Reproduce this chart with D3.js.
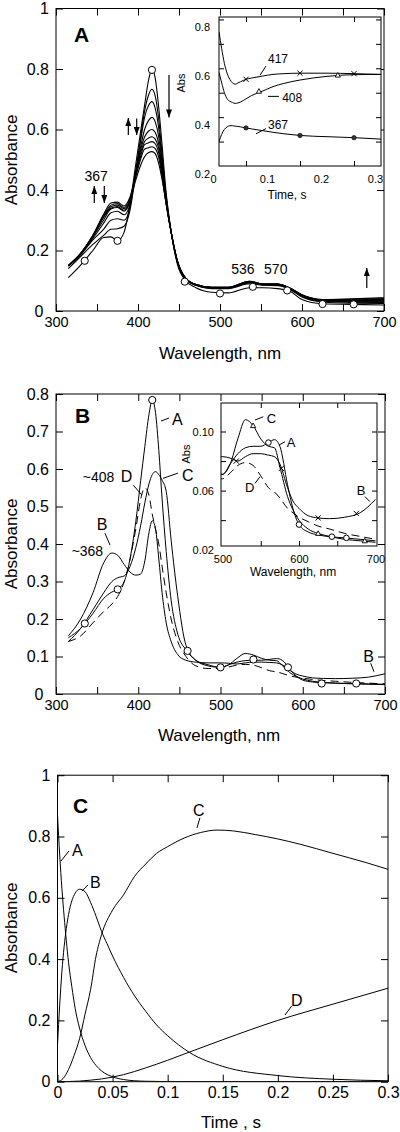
<!DOCTYPE html>
<html><head><meta charset="utf-8">
<script src="https://cdn.jsdelivr.net/npm/d3@7"></script>
<style>
body{margin:0;background:#fff;}
svg{display:block;}
</style></head><body>
<svg id="chart" width="400" height="1132"></svg>
<script>
// ---------------- DATA ----------------
// Panel A: spectra (wavelength grid shared by all traces)
const wlA = [315,330,345,358,367,375,383,390,397,403,408,413,417,421,425,429,434,440,448,458,470,490,510,536,553,570,585,600,625,660,700];
const specA0 = [.11,.152,.20,.243,.245,.232,.26,.35,.48,.59,.68,.765,.80,.77,.68,.56,.40,.27,.155,.10,.078,.062,.06,.077,.077,.074,.066,.038,.024,.022,.02];
const specA1 = [.14,.18,.22,.25,.27,.272,.28,.33,.45,.57,.66,.715,.733,.71,.64,.53,.39,.268,.16,.105,.085,.074,.074,.09,.085,.084,.072,.046,.03,.026,.025];
const specA2 = [.148,.185,.235,.27,.30,.305,.30,.34,.46,.56,.64,.68,.692,.67,.61,.51,.38,.268,.162,.106,.086,.075,.075,.093,.086,.086,.073,.048,.032,.029,.028];
const specA3 = [.15,.188,.24,.29,.325,.33,.318,.35,.45,.54,.60,.63,.64,.625,.58,.495,.375,.268,.164,.107,.087,.076,.076,.095,.087,.087,.074,.05,.034,.031,.030];
const specA4 = [.15,.19,.245,.30,.337,.342,.33,.36,.45,.53,.575,.595,.60,.59,.555,.48,.37,.268,.165,.108,.087,.077,.077,.096,.088,.088,.075,.051,.035,.033,.032];
const specA5 = [.15,.19,.248,.31,.345,.35,.338,.365,.45,.52,.56,.572,.576,.568,.54,.47,.365,.268,.166,.108,.088,.077,.077,.097,.088,.088,.075,.052,.036,.035,.035];
const specA6 = [.15,.19,.25,.32,.357,.36,.347,.375,.445,.51,.55,.556,.56,.553,.525,.46,.36,.266,.166,.109,.088,.078,.078,.097,.089,.089,.076,.053,.037,.037,.038];
const specA7 = [.15,.19,.25,.315,.35,.355,.342,.37,.44,.50,.535,.54,.543,.537,.51,.45,.36,.266,.166,.109,.088,.078,.078,.098,.089,.089,.076,.053,.038,.039,.041];
const specA8 = [.15,.19,.248,.31,.34,.345,.333,.36,.43,.48,.51,.524,.527,.52,.49,.44,.36,.265,.165,.109,.088,.078,.078,.098,.089,.089,.076,.054,.038,.04,.044];
const markA0 = [[335,.166],[375,.232],[417,.797],[457,.097],[500,.058],[540,.08],[582,.068],[625,.023],[663,.022]];
const ticksA_x = [300,350,400,450,500,550,600,650,700];
const labelsA_x = [300,400,500,600,700];
const ticksA_y = [0,0.2,0.4,0.6,0.8,1];

// Panel A inset: kinetics at three wavelengths
const tIns = [0,0.005,0.01,0.015,0.02,0.025,0.03,0.035,0.04,0.05,0.06,0.08,0.1,0.12,0.15,0.2,0.25,0.3];
const k417 = [0.75,0.68,0.62,0.58,0.555,0.54,0.535,0.54,0.545,0.555,0.56,0.568,0.575,0.578,0.58,0.58,0.578,0.575];
const k408 = [0.583,0.54,0.5,0.475,0.465,0.46,0.456,0.458,0.462,0.475,0.488,0.506,0.525,0.538,0.552,0.567,0.574,0.575];
const k367 = [0.30,0.33,0.35,0.36,0.365,0.365,0.363,0.362,0.36,0.356,0.352,0.345,0.338,0.332,0.325,0.32,0.316,0.31];
const m417 = [[0.05,0.555],[0.15,0.58],[0.25,0.578]];
const m408 = [[0.074,0.506],[0.22,0.572]];
const m367 = [[0.05,0.356],[0.15,0.325],[0.25,0.316]];
const ticksAi_x = [0.05,0.15,0.25];
const labelsAi_x = [0,0.1,0.2,0.3];
const ticksAi_y = [0.3,0.4,0.5,0.6,0.7,0.8];
const labelsAi_y = [0.2,0.4,0.6,0.8];

// Panel B: resolved spectra A-D
const wlB = [315,330,345,358,368,375,383,390,397,403,408,413,417,421,425,429,434,440,448,458,470,485,
             500,510,520,530,540,550,560,568,575,585,592,600,612,625,640,660,680,700];
const specB_A = [.15,.175,.215,.255,.272,.279,.30,.36,.46,.57,.66,.745,.784,.75,.65,.52,.38,.25,.16,.118,.09,.078,
                 .071,.078,.085,.089,.09,.09,.0925,.0945,.09,.064,.048,.037,.032,.03,.0288,.028,.027,.026];
const specB_B = [.155,.2,.27,.35,.376,.37,.345,.325,.317,.32,.355,.43,.462,.44,.36,.27,.19,.14,.105,.09,.085,.083,
                 .083,.082,.08,.083,.085,.085,.084,.083,.078,.062,.053,.048,.043,.0415,.041,.042,.045,.054];
const specB_C = [.14,.175,.225,.27,.30,.31,.315,.34,.39,.45,.51,.56,.585,.593,.585,.57,.54,.41,.26,.13,.09,.075,
                 .071,.078,.095,.108,.104,.095,.09,.089,.076,.056,.047,.04,.034,.031,.029,.027,.026,.025];
const specB_D = [.14,.155,.19,.22,.24,.26,.3,.36,.44,.52,.55,.53,.48,.44,.40,.34,.27,.2,.14,.1,.075,.068,
                 .068,.072,.077,.079,.077,.07,.062,.059,.055,.048,.045,.042,.039,.036,.034,.031,.029,.027];
const markB_A = [[335,.188],[375,.279],[417,.784],[460,.115],[500,.071],[540,.092],[582,.071],[623,.028],[665,.028]];
const markBi_A = [[560,.0925],[600,.037],[643,.0288],[662,.028]];
const markBi_B = [[518,.080],[577,.075],[625,.0415],[675,.0445]];
const markBi_C = [[540,.104],[625,.031],[686,.026]];
const ticksB_x = [300,350,400,450,500,550,600,650,700];
const labelsB_x = [300,400,500,600,700];
const ticksB_y = [0,0.1,0.2,0.3,0.4,0.5,0.6,0.7,0.8];
const ticksBi_x = [550,600,650];
const labelsBi_x = [500,600,700];
const ticksBi_y = [0.04,0.06,0.08,0.1];
const labelsBi_y = [0.02,0.06,0.1];

// Panel C: species time courses
const tC_A = [0,0.002,0.004,0.006,0.008,0.01,0.013,0.016,0.02,0.025,0.03,0.035,0.04,0.05,0.06,0.07,0.08,0.1,0.15,0.2,0.3];
const vC_A = [0.87,0.74,0.63,0.54,0.46,0.39,0.31,0.24,0.175,0.118,0.079,0.053,0.035,0.016,0.007,0.003,0.0015,0.0003,0,0,0];
const tC_B = [0,0.002,0.004,0.006,0.008,0.01,0.013,0.016,0.02,0.025,0.03,0.035,0.04,0.045,0.05,0.06,0.07,0.08,0.09,0.1,0.12,0.15,0.2,0.25,0.3];
const vC_B = [0.12,0.25,0.36,0.44,0.5,0.545,0.59,0.615,0.628,0.62,0.585,0.54,0.49,0.45,0.41,0.34,0.28,0.23,0.185,0.15,0.095,0.05,0.02,0.008,0.003];
const tC_C = [0,0.005,0.01,0.015,0.02,0.025,0.03,0.035,0.04,0.05,0.06,0.07,0.08,0.09,0.1,0.115,0.13,0.145,0.16,0.18,0.2,0.22,0.25,0.28,0.3];
const vC_C = [0,0.01,0.04,0.085,0.14,0.22,0.3,0.41,0.48,0.56,0.61,0.67,0.71,0.745,0.767,0.795,0.813,0.821,0.818,0.806,0.792,0.775,0.745,0.715,0.693];
const tC_D = [0,0.02,0.03,0.04,0.05,0.06,0.08,0.1,0.12,0.15,0.2,0.25,0.3];
const vC_D = [0,0.002,0.005,0.009,0.015,0.023,0.045,0.07,0.097,0.137,0.2,0.253,0.305];
const ticksC_x = [0,0.05,0.1,0.15,0.2,0.25,0.3];
const ticksC_y = [0,0.2,0.4,0.6,0.8,1];

// ---------------- DRAWING ----------------
const svg = d3.select("#chart");
const FONT = '"Liberation Sans", Arial, Helvetica, sans-serif';
svg.attr("font-family", FONT);
const defs = svg.append("defs");
defs.append("marker").attr("id","arr").attr("viewBox","0 0 8 6").attr("refX",8).attr("refY",3)
  .attr("markerWidth",8).attr("markerHeight",6).attr("markerUnits","userSpaceOnUse").attr("orient","auto")
  .append("path").attr("d","M0,0 L8,3 L0,6 z").attr("fill","#000");
let clipN = 0;
const num = d => String(+(+d).toFixed(3));

function panel(p) {
  const x = d3.scaleLinear().domain(p.xDomain).range(p.xRange);
  const y = d3.scaleLinear().domain(p.yDomain).range(p.yRange);
  const x0 = p.xRange[0], x1 = p.xRange[1], yT = p.yRange[1], yB = p.yRange[0];
  const g = svg.append("g");
  g.append("rect").attr("x",x0).attr("y",yT).attr("width",x1-x0).attr("height",yB-yT).attr("fill","#fff");
  const id = "clip" + (clipN++);
  defs.append("clipPath").attr("id",id).append("rect").attr("x",x0).attr("y",yT).attr("width",x1-x0).attr("height",yB-yT);
  const plot = g.append("g").attr("clip-path",`url(#${id})`);
  const ax = g.append("g");
  const t = p.tick;
  ax.append("g").attr("transform",`translate(0,${yB})`).call(d3.axisBottom(x).tickValues(p.xTicks).tickSize(-t).tickFormat(""));
  ax.append("g").attr("transform",`translate(0,${yT})`).call(d3.axisTop(x).tickValues(p.xTicks).tickSize(-t).tickFormat(""));
  ax.append("g").attr("transform",`translate(${x0},0)`).call(d3.axisLeft(y).tickValues(p.yTicks).tickSize(-t).tickFormat(""));
  ax.append("g").attr("transform",`translate(${x1},0)`).call(d3.axisRight(y).tickValues(p.yTicks).tickSize(-t).tickFormat(""));
  const xl = ax.append("g").attr("transform",`translate(0,${yB})`)
    .call(d3.axisBottom(x).tickValues(p.xLabels).tickSize(0).tickPadding(p.xPad).tickFormat(p.xFmt || num));
  const yl = ax.append("g").attr("transform",`translate(${x0},0)`)
    .call(d3.axisLeft(y).tickValues(p.yLabels).tickSize(0).tickPadding(p.yPad).tickFormat(p.yFmt || num));
  ax.selectAll(".domain").remove();
  ax.selectAll("g").attr("font-family",null).attr("font-size",null);
  ax.selectAll("line").attr("stroke","#000").attr("stroke-width",1);
  xl.selectAll("text").attr("font-size",p.xfs || p.fs).attr("fill","#000");
  yl.selectAll("text").attr("font-size",p.fs).attr("fill","#000");
  if (p.xLabelDx) xl.selectAll("text").attr("dx", p.xLabelDx);
  if (p.yLabelDy) yl.selectAll("text").attr("transform", `translate(0,${p.yLabelDy})`);
  if (p.zeroDx) yl.selectAll("text").filter(d => d === 0).attr("dx", p.zeroDx);
  g.append("rect").attr("x",x0).attr("y",yT).attr("width",x1-x0).attr("height",yB-yT)
    .attr("fill","none").attr("stroke","#000").attr("stroke-width",1);
  return {x, y, g, plot};
}

function curve(P, xs, ys, opt = {}) {
  const line = d3.line().x(d => P.x(d[0])).y(d => P.y(d[1])).curve(d3.curveMonotoneX);
  P.plot.append("path").datum(d3.zip(xs, ys)).attr("d", line)
    .attr("fill","none").attr("stroke","#000").attr("stroke-width", opt.w || 1)
    .attr("stroke-dasharray", opt.dash || null);
}
function markers(P, pts, type, s) {
  const G = P.plot.append("g");
  pts.forEach(([a, b]) => {
    const cx = P.x(a), cy = P.y(b);
    if (type === "circle") G.append("circle").attr("cx",cx).attr("cy",cy).attr("r",s).attr("fill","#fff").attr("stroke","#000");
    else if (type === "dot") G.append("circle").attr("cx",cx).attr("cy",cy).attr("r",s).attr("fill","#333").attr("stroke","#000").attr("stroke-width",0.6);
    else if (type === "x") G.append("path").attr("d",`M${cx-s},${cy-s}L${cx+s},${cy+s}M${cx-s},${cy+s}L${cx+s},${cy-s}`).attr("stroke","#000").attr("stroke-width",1);
    else if (type === "tri") G.append("path").attr("d",`M${cx},${cy-s}L${cx+s},${cy+s*0.75}L${cx-s},${cy+s*0.75}Z`).attr("fill","#fff").attr("stroke","#000").attr("stroke-width",0.9);
  });
}
function label(P, txt, xv, yv, fs, anchor = "start", bold = false) {
  P.g.append("text").attr("x", P.x(xv)).attr("y", P.y(yv)).attr("font-size", fs)
    .attr("text-anchor", anchor).attr("font-weight", bold ? "bold" : null).attr("fill","#000").text(txt);
}
function leader(P, a, b, c, d) {
  P.g.append("line").attr("x1",P.x(a)).attr("y1",P.y(b)).attr("x2",P.x(c)).attr("y2",P.y(d))
    .attr("stroke","#000").attr("stroke-width",1);
}
function arrow(P, xv, y1, y2) {
  P.g.append("line").attr("x1",P.x(xv)).attr("y1",P.y(y1)).attr("x2",P.x(xv)).attr("y2",P.y(y2))
    .attr("stroke","#000").attr("stroke-width",1.2).attr("marker-end","url(#arr)");
}
function axisTitle(txt, x, y, fs, rot) {
  svg.append("text").attr("transform", `translate(${x},${y})` + (rot ? " rotate(-90)" : ""))
    .attr("text-anchor","middle").attr("font-size",fs).attr("fill","#000").text(txt);
}

// ---------- Panel A ----------
const PA = panel({xDomain:[300,700], xRange:[56,384], yDomain:[0,1], yRange:[311,8.5], tick:7, fs:16, xfs:14.5,
  xTicks:ticksA_x, xLabels:labelsA_x, yTicks:ticksA_y, yLabels:ticksA_y, xPad:6, yPad:7, zeroDx:-5.5});
[specA8,specA7,specA6,specA5,specA4,specA3,specA2,specA1,specA0].forEach(s => curve(PA, wlA, s, {w:1.1}));
markers(PA, markA0, "circle", 3.6);
label(PA, "A", 322, 0.889, 21, "start", true);
label(PA, "367", 349, 0.43, 14, "middle");
arrow(PA, 346.7, 0.357, 0.413);
arrow(PA, 358.9, 0.413, 0.357);
arrow(PA, 388.2, 0.582, 0.638);
arrow(PA, 398.4, 0.636, 0.582);
arrow(PA, 437.8, 0.78, 0.64);
arrow(PA, 679, 0.076, 0.142);
label(PA, "536", 528, 0.122, 14, "middle");
label(PA, "570", 568, 0.122, 14, "middle");
axisTitle("Absorbance", 16.5, 160, 17, true);
axisTitle("Wavelength, nm", 220, 359, 17, false);

// Panel A inset
const PAi = panel({xDomain:[0,0.3], xRange:[219,381], yDomain:[0.2,0.81], yRange:[166,17], tick:5, fs:11,
  xTicks:ticksAi_x, xLabels:labelsAi_x, yTicks:ticksAi_y, yLabels:labelsAi_y, xPad:9, yPad:9,
  xLabelDx:-6, yLabelDy:8});
curve(PAi, tIns, k417);
curve(PAi, tIns, k408);
curve(PAi, tIns, k367);
markers(PAi, m417, "x", 2.6);
markers(PAi, m408, "tri", 2.6);
markers(PAi, m367, "dot", 2.2);
label(PAi, "417", 0.0907, 0.621, 12);
leader(PAi, 0.087, 0.609, 0.076, 0.572);
label(PAi, "408", 0.117, 0.464, 12);
leader(PAi, 0.0907, 0.485, 0.111, 0.485);
label(PAi, "367", 0.0907, 0.353, 12);
leader(PAi, 0.087, 0.353, 0.0685, 0.332);
axisTitle("Abs", 185, 83, 11, true);
axisTitle("Time, s", 287, 199, 12, false);

// ---------- Panel B ----------
const PB = panel({xDomain:[300,700], xRange:[56,385], yDomain:[0,0.8], yRange:[694,394], tick:7, fs:16, xfs:14.5,
  xTicks:ticksB_x, xLabels:labelsB_x, yTicks:ticksB_y, yLabels:ticksB_y, xPad:6, yPad:7, zeroDx:-5.5});
curve(PB, wlB, specB_A);
curve(PB, wlB, specB_B);
curve(PB, wlB, specB_C);
curve(PB, wlB, specB_D, {dash:"8,5"});
markers(PB, markB_A, "circle", 3.6);
label(PB, "B", 323, 0.723, 21, "start", true);
label(PB, "A", 441, 0.717, 16);
leader(PB, 427.7, 0.728, 437.4, 0.736);
label(PB, "C", 453.2, 0.568, 16);
leader(PB, 430, 0.575, 448.3, 0.589);
label(PB, "D", 378.6, 0.566, 16);
leader(PB, 394, 0.557, 404.2, 0.531);
label(PB, "~408", 332.5, 0.566, 14);
label(PB, "B", 349.5, 0.437, 16);
leader(PB, 359.6, 0.4285, 365.7, 0.397);
label(PB, "~368", 319, 0.368, 14);
label(PB, "B", 673.6, 0.086, 16);
leader(PB, 682.6, 0.082, 686.6, 0.0595);
axisTitle("Absorbance", 16.5, 544, 17, true);
axisTitle("Wavelength, nm", 219, 741, 17, false);

// Panel B inset
const PBi = panel({xDomain:[498,702], xRange:[221,377], yDomain:[0.0225,0.1193], yRange:[546,403], tick:5, fs:11,
  xTicks:ticksBi_x, xLabels:labelsBi_x, yTicks:ticksBi_y, yLabels:labelsBi_y, xPad:9, yPad:7,
  yFmt:d3.format(".2f")});
curve(PBi, wlB, specB_A);
curve(PBi, wlB, specB_B);
curve(PBi, wlB, specB_C);
curve(PBi, wlB, specB_D, {dash:"8,5"});
markers(PBi, markBi_A, "circle", 2.8);
markers(PBi, markBi_B, "x", 2.6);
markers(PBi, markBi_C, "tri", 2.6);
label(PBi, "C", 557.8, 0.1056, 13);
leader(PBi, 542.5, 0.1078, 553.3, 0.110);
label(PBi, "A", 583.9, 0.0897, 13);
leader(PBi, 574.2, 0.0909, 581.7, 0.0931);
label(PBi, "D", 529.4, 0.0593, 13);
leader(PBi, 542.5, 0.0649, 549, 0.0694);
label(PBi, "B", 675.5, 0.057, 13);
leader(PBi, 686.3, 0.0559, 692.8, 0.0525);
axisTitle("Abs", 190, 454, 11, true);
axisTitle("Wavelength, nm", 293, 576, 12, false);

// ---------- Panel C ----------
const PC = panel({xDomain:[0,0.3], xRange:[57.5,388], yDomain:[0,1], yRange:[1081.7,775.2], tick:7, fs:16,
  xTicks:ticksC_x, xLabels:ticksC_x, yTicks:ticksC_y, yLabels:ticksC_y, xPad:4.5, yPad:7});
curve(PC, tC_A, vC_A);
curve(PC, tC_B, vC_B);
curve(PC, tC_C, vC_C);
curve(PC, tC_D, vC_D);
label(PC, "C", 0.0141, 0.877, 21, "start", true);
label(PC, "A", 0.0132, 0.736, 16);
leader(PC, 0.0032, 0.720, 0.0104, 0.753);
label(PC, "B", 0.0295, 0.632, 16);
leader(PC, 0.0222, 0.622, 0.0277, 0.642);
label(PC, "C", 0.123, 0.867, 16);
leader(PC, 0.1266, 0.828, 0.1293, 0.861);
label(PC, "D", 0.212, 0.247, 16);
leader(PC, 0.2065, 0.2176, 0.2126, 0.247);
axisTitle("Absorbance", 16.5, 928, 17, true);
axisTitle("Time , s", 231, 1128, 17, false);
</script>
</body></html>
